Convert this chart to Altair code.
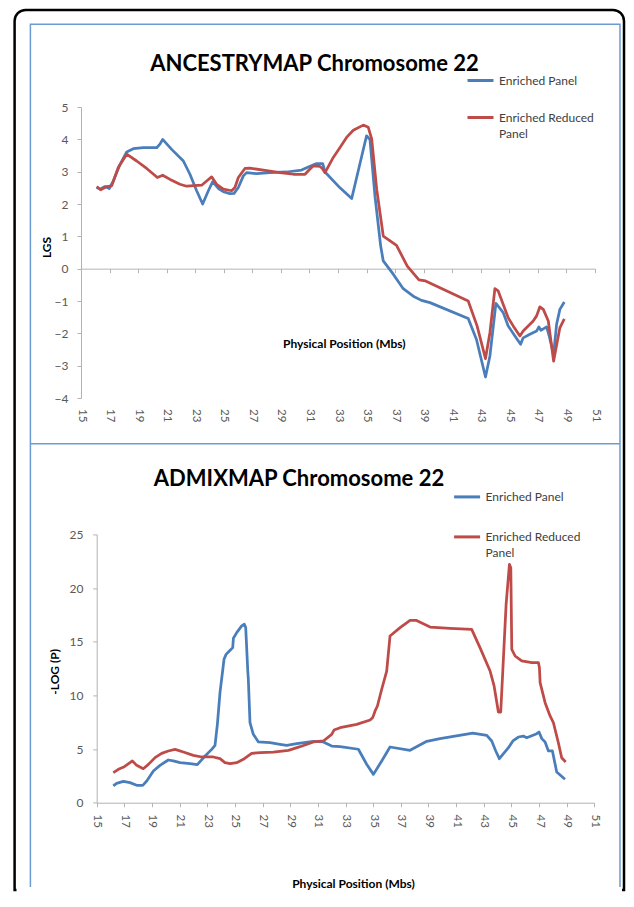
import altair as alt
import pandas as pd

SERIES = ["Enriched Panel", "Enriched Reduced Panel"]
COLORS = ["#4a7ebb", "#be4b48"]
X_TICKS = list(range(15, 52, 2))
Y_TICKS_TOP = list(range(-4, 6))
Y_TICKS_BOTTOM = [0, 5, 10, 15, 20, 25]
TITLES = ["ANCESTRYMAP Chromosome 22", "ADMIXMAP Chromosome 22"]
FONT = "Lato"

# ANCESTRYMAP (LGS)
anc_blue_mb = [16.10, 16.33, 16.68, 16.98, 17.26, 17.73, 18.20, 18.66, 19.37, 20.30,
               20.53, 20.72, 21.35, 22.17, 22.63, 23.10, 23.52, 23.92, 24.22, 24.62,
               24.97, 25.43, 25.72, 26.02, 26.37, 26.60, 27.30, 28.24, 29.40, 30.45,
               31.04, 31.50, 31.93, 32.09, 33.14, 33.96, 35.00, 35.24, 35.59, 35.99,
               36.17, 36.87, 37.57, 38.27, 38.85, 39.44, 42.12, 42.70, 43.33, 43.64,
               44.06, 44.57, 44.92, 45.39, 45.79, 45.97, 46.44, 46.91, 47.07, 47.21,
               47.61, 47.79, 48.10, 48.31, 48.54, 48.85]
anc_blue_lgs = [2.51, 2.46, 2.54, 2.48, 2.71, 3.22, 3.61, 3.71, 3.74, 3.74,
                3.85, 4.00, 3.69, 3.33, 2.92, 2.41, 2.00, 2.41, 2.69, 2.48,
                2.38, 2.32, 2.33, 2.51, 2.87, 2.97, 2.94, 2.97, 2.99, 3.05,
                3.17, 3.25, 3.25, 2.99, 2.50, 2.17, 4.11, 3.99, 2.24, 0.70,
                0.24, -0.17, -0.62, -0.85, -0.98, -1.05, -1.54, -2.19, -3.35, -2.70,
                -1.07, -1.36, -1.77, -2.08, -2.34, -2.14, -2.03, -1.93, -1.80, -1.91,
                -1.80, -2.08, -2.65, -1.72, -1.26, -1.03]
anc_red_mb = [16.10, 16.38, 16.80, 17.15, 17.61, 18.20, 18.90, 19.60, 20.35, 20.72,
              21.24, 21.93, 22.40, 23.45, 23.80, 24.15, 24.50, 24.97, 25.55, 25.78,
              26.02, 26.48, 26.83, 28.00, 28.93, 29.87, 30.69, 30.92, 31.27, 31.74,
              31.90, 32.09, 32.67, 33.14, 33.60, 34.07, 34.77, 35.12, 35.36, 35.71,
              36.17, 37.10, 37.85, 38.67, 39.13, 42.12, 42.74, 43.33, 43.64, 43.99,
              44.22, 44.92, 45.27, 45.74, 45.97, 46.67, 46.91, 47.14, 47.38, 47.73,
              48.10, 48.54, 48.85]
anc_red_lgs = [2.54, 2.44, 2.54, 2.56, 3.13, 3.54, 3.33, 3.10, 2.82, 2.89,
               2.76, 2.61, 2.55, 2.58, 2.71, 2.84, 2.61, 2.46, 2.41, 2.51,
               2.82, 3.10, 3.11, 3.03, 2.97, 2.92, 2.92, 3.03, 3.18, 3.16,
               3.10, 2.97, 3.44, 3.75, 4.06, 4.28, 4.44, 4.37, 4.01, 2.46,
               1.01, 0.72, 0.08, -0.35, -0.38, -1.00, -1.77, -2.78, -1.98, -0.62,
               -0.69, -1.52, -1.77, -2.08, -1.93, -1.62, -1.46, -1.18, -1.26, -1.62,
               -2.86, -1.83, -1.55]

# ADMIXMAP (-LOG P)
adm_blue_mb = [16.20, 16.44, 16.93, 17.41, 17.89, 18.33, 18.62, 19.10, 19.58, 20.18,
               20.54, 21.03, 21.75, 22.28, 22.84, 23.32, 23.56, 23.73, 23.92, 24.11,
               24.21, 24.36, 24.60, 24.84, 24.89, 25.13, 25.49, 25.68, 25.78, 25.85,
               25.93, 25.97, 26.09, 26.33, 26.70, 27.54, 28.26, 28.75, 29.47, 30.68,
               31.40, 32.00, 32.61, 33.93, 34.53, 35.02, 35.62, 36.22, 37.67, 38.88,
               39.84, 42.21, 43.22, 43.58, 43.87, 44.13, 44.79, 45.11, 45.51, 45.87,
               46.11, 46.84, 47.00, 47.20, 47.44, 47.68, 47.97, 48.28, 48.88]
adm_blue_logp = [1.56, 1.80, 1.99, 1.87, 1.62, 1.62, 2.02, 2.96, 3.48, 3.98,
                 3.89, 3.73, 3.64, 3.55, 4.35, 4.97, 5.35, 7.30, 10.26, 12.27,
                 13.36, 13.82, 14.14, 14.45, 15.32, 15.85, 16.47, 16.63, 16.32, 14.45,
                 12.27, 11.50, 7.46, 6.37, 5.66, 5.59, 5.44, 5.35, 5.50, 5.72,
                 5.66, 5.28, 5.22, 4.98, 3.58, 2.64, 3.89, 5.19, 4.88, 5.72,
                 5.97, 6.49, 6.28, 5.75, 4.82, 4.10, 5.13, 5.75, 6.12, 6.21,
                 6.06, 6.43, 6.59, 5.97, 5.66, 4.82, 4.82, 2.86, 2.18]
adm_red_mb = [16.20, 16.57, 17.00, 17.41, 17.58, 17.89, 18.37, 18.74, 19.22, 19.70,
              20.18, 20.67, 21.27, 21.99, 22.60, 23.44, 23.92, 24.28, 24.65, 25.13,
              25.61, 26.21, 26.82, 27.78, 28.87, 29.71, 30.68, 31.40, 32.00, 32.17,
              32.61, 33.81, 34.78, 34.97, 35.14, 35.31, 35.62, 35.98, 36.22, 36.95,
              37.67, 38.10, 39.12, 40.56, 42.13, 42.73, 43.46, 43.75, 44.06, 44.23,
              44.38, 44.62, 44.86, 44.96, 45.03, 45.27, 45.75, 46.48, 46.96, 47.03,
              47.08, 47.44, 47.80, 48.04, 48.40, 48.64, 48.93]
adm_red_logp = [2.80, 3.11, 3.36, 3.73, 3.89, 3.48, 3.17, 3.57, 4.20, 4.60,
                4.82, 4.97, 4.72, 4.41, 4.26, 4.26, 4.10, 3.73, 3.64, 3.73,
                4.04, 4.60, 4.66, 4.72, 4.88, 5.22, 5.66, 5.75, 6.37, 6.77,
                6.99, 7.30, 7.71, 7.93, 8.55, 9.01, 10.57, 12.27, 15.53, 16.31,
                16.99, 16.99, 16.37, 16.25, 16.15, 14.45, 12.27, 10.88, 8.45, 8.45,
                12.27, 18.48, 22.21, 21.90, 14.29, 13.67, 13.21, 13.05, 13.05, 12.58,
                11.19, 9.32, 8.08, 7.46, 5.59, 4.19, 3.79]


def make_frame(b_mb, b_v, r_mb, r_v):
    return pd.DataFrame({
        "Mb": b_mb + r_mb,
        "value": b_v + r_v,
        "series": [SERIES[0]] * len(b_mb) + [SERIES[1]] * len(r_mb),
    })


df_top = make_frame(anc_blue_mb, anc_blue_lgs, anc_red_mb, anc_red_lgs)
df_bot = make_frame(adm_blue_mb, adm_blue_logp, adm_red_mb, adm_red_logp)
one = pd.DataFrame({"k": [0]})

W1, H1 = 514, 291
W2, H2 = 514, 268.3
ZERO_UP = H1 * 4 / 9  # distance of LGS=0 line from bottom of plot

AX = "#b3b3b3"
LBL = "#595959"

label_expr = "datum.label == 'Enriched Reduced Panel' ? ['Enriched Reduced', 'Panel'] : datum.label"


def legend(x, y, row_pad):
    return alt.Legend(
        orient="none", legendX=x, legendY=y, title=None, padding=0,
        symbolType="stroke", symbolSize=676, symbolStrokeWidth=3,
        labelFont=FONT, labelFontSize=12, labelColor="#404040",
        labelExpr=label_expr, labelLimit=200, rowPadding=row_pad, labelOffset=4,
    )


def title_mark(text, x, y):
    return alt.Chart(one).mark_text(
        text=text, font=FONT, fontSize=22, fontWeight="bold", color="black",
        align="center", baseline="alphabetic",
    ).encode(x=alt.value(x), y=alt.value(y))


color_scale = alt.Scale(domain=SERIES, range=COLORS)

# decorations (frames) drawn in top panel coordinates
bound = alt.Chart(one).mark_rect(fill="white").encode(
    x=alt.value(-73), x2=alt.value(-72), y=alt.value(-98), y2=alt.value(-97))
black = alt.Chart(one).mark_rect(fill="white", fillOpacity=0, stroke="black", strokeWidth=2.5,
                                 cornerRadiusTopLeft=11, cornerRadiusTopRight=11).encode(
    x=alt.value(-66.4), x2=alt.value(543), y=alt.value(-97.1), y2=alt.value(783))
blue_box = alt.Chart(one).mark_rect(fill="white", fillOpacity=0, stroke="#6c9bd2", strokeWidth=1.5).encode(
    x=alt.value(-50.6), x2=alt.value(539), y=alt.value(-82.7), y2=alt.value(783))
blue_rule = alt.Chart(one).mark_rule(color="#6c9bd2", strokeWidth=1.5).encode(
    x=alt.value(-50.6), x2=alt.value(539), y=alt.value(336.7))
cover = alt.Chart(one).mark_rect(fill="white").encode(
    x=alt.value(-64.5), x2=alt.value(541), y=alt.value(780), y2=alt.value(785))

top_lines = alt.Chart(df_top).mark_line(strokeWidth=2.75, strokeJoin="round").encode(
    x=alt.X("Mb:Q", scale=alt.Scale(domain=[15, 51], nice=False, zero=False),
            axis=alt.Axis(values=X_TICKS, labelAngle=90, offset=-ZERO_UP,
                          labelPadding=ZERO_UP + 6.5, tickSize=4, labelFlush=False,
                          labelOverlap=False, labelFontSize=11.5, grid=False,
                          title="Physical Position (Mbs)", titleX=262.8,
                          titleY=236.3 - (H1 - ZERO_UP), titleBaseline="middle")),
    y=alt.Y("value:Q", scale=alt.Scale(domain=[-4, 5], nice=False, zero=False),
            axis=alt.Axis(values=Y_TICKS_TOP, tickSize=4, labelPadding=9, grid=False,
                          title="LGS", titleX=-34.4, titleY=140, titleBaseline="middle")),
    color=alt.Color("series:N", scale=color_scale, legend=legend(385, -41, 16)),
)

top = alt.layer(bound, black, blue_box, blue_rule, cover,
                title_mark(TITLES[0], 233.5, -36), top_lines).properties(width=W1, height=H1)

bottom_lines = alt.Chart(df_bot).mark_line(strokeWidth=2.75, strokeJoin="round").encode(
    x=alt.X("Mb:Q", scale=alt.Scale(domain=[15, 51], range=[15.7, 513.3], nice=False, zero=False),
            axis=alt.Axis(values=X_TICKS, labelAngle=90, tickSize=4, labelPadding=7.3,
                          labelFlush=False, labelOverlap=False, labelFontSize=11.5, grid=False,
                          title="Physical Position (Mbs)", titleX=272, titleY=81,
                          titleBaseline="middle")),
    y=alt.Y("value:Q", scale=alt.Scale(domain=[0, 25], nice=False, zero=False),
            axis=alt.Axis(values=Y_TICKS_BOTTOM, offset=-15.7, tickSize=4, labelPadding=9.7,
                          grid=False, title="-LOG (P)", titleX=-42, titleY=137,
                          titleBaseline="middle")),
    color=alt.Color("series:N", scale=color_scale, legend=legend(371.6, -52, 19)),
)

bottom = alt.layer(title_mark(TITLES[1], 218, -48.4), bottom_lines).properties(width=W2, height=H2)

chart = alt.vconcat(top, bottom, spacing=136.4, bounds="flush").resolve_scale(
    x="independent", y="independent", color="shared"
).resolve_legend(color="independent").properties(
    padding=0, background="white"
).configure_view(stroke=None).configure_axis(
    domainColor=AX, tickColor=AX, domainWidth=1, tickWidth=1,
    labelColor=LBL, labelFont=FONT, labelFontSize=12,
    titleFont=FONT, titleFontSize=12, titleFontWeight="bold", titleColor="black",
)
chart.config.style = {"guide-label": {"lineHeight": 16.5}}

chart.save("out.html", embed_options={"renderer": "svg", "actions": False})
